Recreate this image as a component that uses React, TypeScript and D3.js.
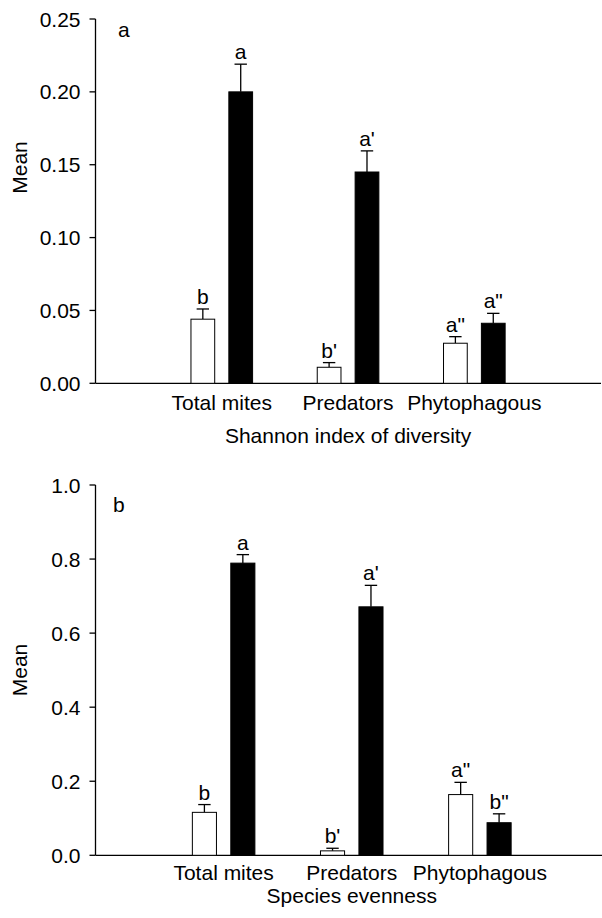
import React from "react";
import * as d3 from "d3";

const categories = ["Total mites", "Predators", "Phytophagous"];

const shannonOpen = [0.044, 0.011, 0.0275];
const shannonOpenErr = [0.007, 0.0032, 0.0045];
const shannonFilled = [0.2, 0.145, 0.0412];
const shannonFilledErr = [0.019, 0.0145, 0.0068];
const shannonOpenLetters = ["b", "b'", "a\""];
const shannonFilledLetters = ["a", "a'", "a\""];
const shannonTicks = [0, 0.05, 0.1, 0.15, 0.2, 0.25];

const evenOpen = [0.116, 0.012, 0.164];
const evenOpenErr = [0.021, 0.007, 0.033];
const evenFilled = [0.789, 0.671, 0.088];
const evenFilledErr = [0.023, 0.058, 0.024];
const evenOpenLetters = ["b", "b'", "a\""];
const evenFilledLetters = ["a", "a'", "b\""];
const evenTicks = [0, 0.2, 0.4, 0.6, 0.8, 1.0];

const FONT = "'Liberation Sans', Arial, Helvetica, sans-serif";
const FS = 21;

type PanelProps = {
  open: number[];
  openErr: number[];
  filled: number[];
  filledErr: number[];
  openLetters: string[];
  filledLetters: string[];
  ticks: number[];
  yDomain: [number, number];
  yRange: [number, number];
  xRange: [number, number];
  axisEnd: number;
  fmt: (v: number) => string;
  panelLabel: string;
  panelLabelX: number;
  panelLabelY: number;
  meanY: number;
  catLabelY: number;
  title: string;
  titleY: number;
};

function Panel(p: PanelProps) {
  const y = d3.scaleLinear().domain(p.yDomain).range(p.yRange);
  const x = d3.scaleLinear().domain([0, 4]).range(p.xRange);
  const step = x(1) - x(0);
  const bw = step * 0.188;
  const gap = step * 0.112;
  const cap = 6.2;
  const x0 = p.xRange[0];
  const base = y(0);

  const bars: React.ReactNode[] = [];
  categories.forEach((c, i) => {
    const cx = x(i + 1);
    const series = [
      { v: p.open[i], e: p.openErr[i], lab: p.openLetters[i], left: cx - gap / 2 - bw, fill: "#fff" },
      { v: p.filled[i], e: p.filledErr[i], lab: p.filledLetters[i], left: cx + gap / 2, fill: "#000" },
    ];
    series.forEach((s, j) => {
      const mid = s.left + bw / 2;
      const top = y(s.v);
      const et = y(s.v + s.e);
      bars.push(
        <g key={`${i}-${j}`}>
          <line x1={mid} x2={mid} y1={top} y2={et} stroke="#000" strokeWidth={1.3} />
          <line x1={mid - cap} x2={mid + cap} y1={et} y2={et} stroke="#000" strokeWidth={1.3} />
          <rect x={s.left} y={top} width={bw} height={base - top} fill={s.fill} stroke="#000" strokeWidth={1} />
          <text x={mid} y={et - 5} textAnchor="middle" fontSize={FS} fontFamily={FONT}>
            {s.lab}
          </text>
        </g>
      );
    });
  });

  return (
    <g>
      <line x1={x0} x2={x0} y1={y(p.yDomain[1])} y2={base} stroke="#000" strokeWidth={1.3} />
      <line x1={x0} x2={p.axisEnd} y1={base} y2={base} stroke="#000" strokeWidth={1.3} />
      {p.ticks.map((t) => (
        <g key={t}>
          <line x1={x0 - 6} x2={x0} y1={y(t)} y2={y(t)} stroke="#000" strokeWidth={1.3} />
          <text x={x0 - 15} y={y(t)} dy="0.36em" textAnchor="end" fontSize={FS} fontFamily={FONT}>
            {p.fmt(t)}
          </text>
        </g>
      ))}
      {bars}
      {categories.map((c, i) => (
        <text key={c} x={x(i + 1)} y={p.catLabelY} textAnchor="middle" fontSize={FS} fontFamily={FONT}>
          {c}
        </text>
      ))}
      <text x={(p.xRange[0] + p.xRange[1]) / 2} y={p.titleY} textAnchor="middle" fontSize={FS} fontFamily={FONT}>
        {p.title}
      </text>
      <text
        transform={`translate(26.5,${p.meanY}) rotate(-90)`}
        textAnchor="middle"
        fontSize={FS}
        fontFamily={FONT}
      >
        Mean
      </text>
      <text x={p.panelLabelX} y={p.panelLabelY} fontSize={FS} fontFamily={FONT}>
        {p.panelLabel}
      </text>
    </g>
  );
}

export default function App() {
  return (
    <svg
      width={602}
      height={918}
      style={{ position: "absolute", left: 0, top: 0, background: "#fff" }}
    >
      <rect width={602} height={918} fill="#fff" />
      <Panel
        open={shannonOpen}
        openErr={shannonOpenErr}
        filled={shannonFilled}
        filledErr={shannonFilledErr}
        openLetters={shannonOpenLetters}
        filledLetters={shannonFilledLetters}
        ticks={shannonTicks}
        yDomain={[0, 0.25]}
        yRange={[383.3, 19]}
        xRange={[95.5, 600.6]}
        axisEnd={601}
        fmt={(v) => v.toFixed(2)}
        panelLabel="a"
        panelLabelX={118}
        panelLabelY={36.5}
        meanY={167.5}
        catLabelY={409.5}
        title="Shannon index of diversity"
        titleY={443}
      />
      <Panel
        open={evenOpen}
        openErr={evenOpenErr}
        filled={evenFilled}
        filledErr={evenFilledErr}
        openLetters={evenOpenLetters}
        filledLetters={evenFilledLetters}
        ticks={evenTicks}
        yDomain={[0, 1]}
        yRange={[855.3, 485]}
        xRange={[95.5, 608]}
        axisEnd={602}
        fmt={(v) => v.toFixed(1)}
        panelLabel="b"
        panelLabelX={113}
        panelLabelY={511.5}
        meanY={670}
        catLabelY={879.5}
        title="Species evenness"
        titleY={903}
      />
    </svg>
  );
}
